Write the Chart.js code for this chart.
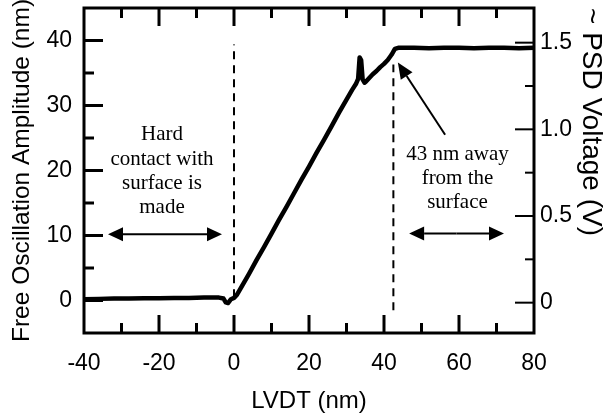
<!DOCTYPE html>
<html>
<head>
<meta charset="utf-8">
<script src="https://cdn.jsdelivr.net/npm/chart.js@4/dist/chart.umd.min.js"></script>
<style>
  html, body { margin: 0; padding: 0; background: #fff; }
  canvas { display: block; }
</style>
</head>
<body>
<canvas id="chart" width="603" height="415"></canvas>
<script>
// curve: LVDT position (nm) vs free oscillation amplitude (nm)
const lvdtNm = [-40, -36, -32, -28, -24, -20, -16, -12, -8, -4, -2.8, -2.2, -1.6, -0.8, 0, 0.8, 2, 4, 6, 8,
  10, 12, 14, 16, 18, 20, 22, 24, 26, 28, 30, 31.5, 32.5, 33.1, 33.5, 33.9, 34.3, 34.8, 35.2, 36, 37, 38,
  39, 40, 41, 42, 42.9, 44, 48, 52, 56, 60, 64, 68, 72, 76, 80];
const amplitudeNm = [0.2, 0.25, 0.3, 0.3, 0.35, 0.35, 0.4, 0.4, 0.45, 0.45, 0.3, -0.3, -0.4, 0.2, 0.4, 0.9, 2.1, 4.1, 6.2, 8.2,
  10.3, 12.4, 14.4, 16.5, 18.6, 20.6, 22.7, 24.7, 26.8, 28.9, 30.9, 32.4, 33.3, 34.1, 37.4, 37.0, 34.0, 33.5, 33.7, 34.2, 34.8, 35.3,
  35.9, 36.4, 37.0, 37.8, 38.7, 38.9, 38.9, 38.8, 38.9, 38.9, 38.8, 38.9, 38.9, 38.8, 38.9];

// dashed markers
const contactLineX = [0, 0];
const contactLineY = [0.5, 39.4];
const awayLineX = [42.5, 42.5];
const awayLineY = [-1.5, 36.3];

// ticks
const xTickVals = [-40, -30, -20, -10, 0, 10, 20, 30, 40, 50, 60, 70, 80];
const xTickLabels = ["-40", "", "-20", "", "0", "", "20", "", "40", "", "60", "", "80"];
const yTickVals = [0, 5, 10, 15, 20, 25, 30, 35, 40];
const yTickLabels = ["0", "", "10", "", "20", "", "30", "", "40"];
const psdTickVals = [0, 0.25, 0.5, 0.75, 1.0, 1.25, 1.5];
const psdTickLabels = ["0", "", "0.5", "", "1.0", "", "1.5"];

// annotations (data units)
const hardText = ["Hard", "contact with", "surface is", "made"];
const hardTextAt = [-19.2, 25.5];
const hardArrowX = [-33.6, -3.2];
const hardArrowY = [10.2, 10.2];
const awayText = ["43 nm away", "from the", "surface"];
const awayTextAt = [59.6, 22.4];
const awayArrowX = [46.7, 72];
const awayArrowY = [10.3, 10.3];
const pointerX = [56.3, 43.7];
const pointerY = [25.5, 36.6];

const FONT = "'Liberation Sans', Arial, sans-serif";
const SERIF = "'Liberation Serif', 'Times New Roman', serif";

function pts(xs, ys) {
  return xs.map((x, i) => ({ x, y: ys[i] }));
}

function seg(ctx, x0, y0, x1, y1) {
  ctx.beginPath();
  ctx.moveTo(x0, y0);
  ctx.lineTo(x1, y1);
  ctx.stroke();
}

function arrow(ctx, x0, y0, x1, y1, len, half) {
  const ang = Math.atan2(y1 - y0, x1 - x0);
  const c = Math.cos(ang), s = Math.sin(ang);
  const bx = x1 - len * c, by = y1 - len * s;
  seg(ctx, x0, y0, bx, by);
  ctx.beginPath();
  ctx.moveTo(x1, y1);
  ctx.lineTo(bx + half * s, by - half * c);
  ctx.lineTo(bx - half * s, by + half * c);
  ctx.closePath();
  ctx.fill();
}

function doubleArrow(ctx, x0, y0, x1, y1) {
  const mx = (x0 + x1) / 2, my = (y0 + y1) / 2;
  arrow(ctx, mx, my, x0, y0, 15, 7);
  arrow(ctx, mx, my, x1, y1, 15, 7);
}

// keep the plot box fixed: no extra room for first/last labels
function fixBox(size, key) {
  return (s) => {
    s[key] = size;
    s.paddingTop = 0;
    s.paddingBottom = 0;
    s.paddingLeft = 0;
    s.paddingRight = 0;
  };
}

const frameAndMarks = {
  id: "frameAndMarks",
  afterDatasetsDraw(chart) {
    const { ctx, chartArea: a, scales } = chart;
    const { x, y, y2 } = scales;
    ctx.save();
    ctx.strokeStyle = "#000";
    ctx.fillStyle = "#000";
    ctx.lineCap = "butt";

    // inward ticks
    ctx.lineWidth = 3;
    xTickVals.forEach((v, i) => {
      if (i === 0 || i === xTickVals.length - 1) return;
      const px = x.getPixelForValue(v);
      const len = xTickLabels[i] ? 18 : 10;
      seg(ctx, px, a.bottom, px, a.bottom - len);
      seg(ctx, px, a.top, px, a.top + len);
    });
    yTickVals.forEach((v, i) => {
      const py = y.getPixelForValue(v);
      const len = yTickLabels[i] ? 19 : 10;
      seg(ctx, a.left, py, a.left + len, py);
    });
    ctx.lineWidth = 2;
    psdTickVals.forEach((v, i) => {
      const py = y2.getPixelForValue(v);
      const len = psdTickLabels[i] ? 19 : 9;
      seg(ctx, a.right, py, a.right - len, py);
    });

    // frame
    ctx.lineWidth = 3;
    ctx.strokeRect(a.left, a.top, a.right - a.left, a.bottom - a.top);

    // arrows
    ctx.lineWidth = 2;
    doubleArrow(ctx, x.getPixelForValue(hardArrowX[0]), y.getPixelForValue(hardArrowY[0]),
      x.getPixelForValue(hardArrowX[1]), y.getPixelForValue(hardArrowY[1]));
    doubleArrow(ctx, x.getPixelForValue(awayArrowX[0]), y.getPixelForValue(awayArrowY[0]),
      x.getPixelForValue(awayArrowX[1]), y.getPixelForValue(awayArrowY[1]));
    arrow(ctx, x.getPixelForValue(pointerX[0]), y.getPixelForValue(pointerY[0]),
      x.getPixelForValue(pointerX[1]), y.getPixelForValue(pointerY[1]), 16, 7);

    // text blocks
    ctx.font = "21px " + SERIF;
    ctx.textAlign = "center";
    ctx.textBaseline = "middle";
    const hx = x.getPixelForValue(hardTextAt[0]);
    const hy = y.getPixelForValue(hardTextAt[1]);
    hardText.forEach((t, i) => ctx.fillText(t, hx, hy + i * 24.4));
    const ax = x.getPixelForValue(awayTextAt[0]);
    const ay = y.getPixelForValue(awayTextAt[1]);
    awayText.forEach((t, i) => ctx.fillText(t, ax, ay + i * 24));
    ctx.restore();
  },
};

const dashed = {
  borderColor: "#000",
  borderWidth: 2,
  borderDash: [8, 6],
  pointRadius: 0,
  fill: false,
  yAxisID: "y",
};

new Chart(document.getElementById("chart"), {
  type: "line",
  data: {
    datasets: [
      { ...dashed, data: pts(contactLineX, contactLineY) },
      { ...dashed, data: pts(awayLineX, awayLineY) },
      {
        data: pts(lvdtNm, amplitudeNm),
        borderColor: "#000",
        borderWidth: 4.5,
        borderJoinStyle: "round",
        borderCapStyle: "round",
        pointRadius: 0,
        tension: 0,
        fill: false,
        yAxisID: "y",
      },
    ],
  },
  options: {
    responsive: false,
    animation: false,
    events: [],
    layout: { padding: { top: 8, left: 0, right: 0, bottom: 0 } },
    plugins: { legend: { display: false }, tooltip: { enabled: false } },
    scales: {
      x: {
        type: "linear",
        min: -40,
        max: 80,
        afterBuildTicks: (s) => { s.ticks = xTickVals.map((v) => ({ value: v })); },
        afterFit: fixBox(82, "height"),
        grid: { display: false, drawTicks: false },
        border: { display: false },
        ticks: {
          autoSkip: false,
          maxRotation: 0,
          padding: 19,
          color: "#000",
          font: { family: FONT, size: 23, lineHeight: 1 },
          callback: (v, i) => xTickLabels[i] || null,
        },
        title: {
          display: true,
          text: "LVDT (nm)",
          color: "#000",
          padding: 2,
          font: { family: FONT, size: 24, lineHeight: 1 },
        },
      },
      y: {
        type: "linear",
        position: "left",
        min: -5,
        max: 45,
        afterBuildTicks: (s) => { s.ticks = yTickVals.map((v) => ({ value: v })); },
        afterFit: fixBox(84, "width"),
        grid: { display: false, drawTicks: false },
        border: { display: false },
        ticks: {
          padding: 12,
          color: "#000",
          font: { family: FONT, size: 23, lineHeight: 1 },
          callback: (v, i) => yTickLabels[i] || null,
        },
        title: {
          display: true,
          text: "Free Oscillation Amplitude (nm)",
          color: "#000",
          padding: 10,
          font: { family: FONT, size: 24.5, lineHeight: 1 },
        },
      },
      y2: {
        type: "linear",
        position: "right",
        min: -0.175,
        max: 1.7,
        afterBuildTicks: (s) => { s.ticks = psdTickVals.map((v) => ({ value: v })); },
        afterFit: fixBox(69, "width"),
        grid: { display: false, drawTicks: false },
        border: { display: false },
        ticks: {
          padding: 6,
          color: "#000",
          font: { family: FONT, size: 23, lineHeight: 1 },
          callback: (v, i) => psdTickLabels[i] || null,
        },
        title: {
          display: true,
          text: "~ PSD Voltage (V)",
          align: "end",
          color: "#000",
          padding: 0,
          font: { family: FONT, size: 28, lineHeight: 0.9 },
        },
      },
    },
  },
  plugins: [frameAndMarks],
});
</script>
</body>
</html>
